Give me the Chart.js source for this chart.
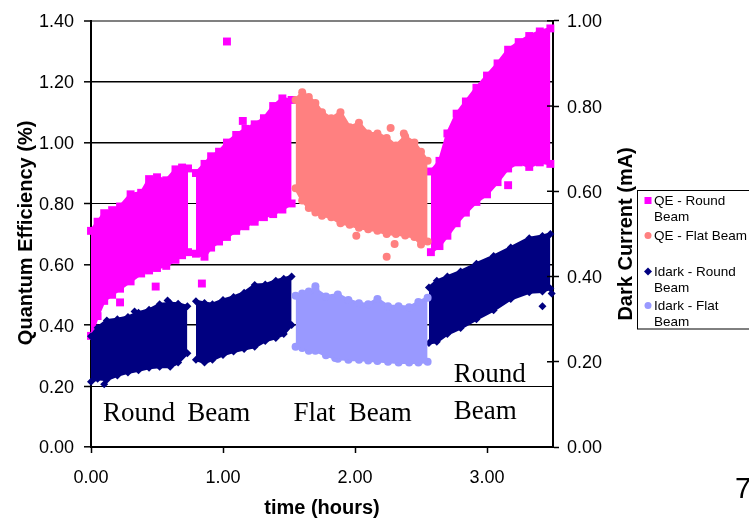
<!DOCTYPE html>
<html>
<head>
<meta charset="utf-8">
<script src="https://cdn.jsdelivr.net/npm/chart.js@4/dist/chart.umd.min.js"></script>
<style>
  html, body { margin: 0; padding: 0; background: #fff; }
  canvas { display: block; }
</style>
</head>
<body>
<canvas id="c" width="749" height="520"></canvas>
<script>
// Quantum efficiency (%) vs time, round beam runs: upper / lower edge of the point cloud.
// null separates the three round-beam runs.
const qeRoundTime  = [0.00, 0.05, 0.10, 0.16, 0.22, 0.30, 0.38, 0.44, 0.50, 0.57, 0.64, 0.69, 0.735, null,
                      0.795, 0.86, 0.91, 0.97, 1.03, 1.10, 1.17, 1.24, 1.31, 1.38, 1.45, 1.52, null,
                      2.575, 2.64, 2.70, 2.77, 2.84, 2.92, 3.00, 3.08, 3.16, 3.24, 3.32, 3.40, 3.48];
const qeRoundUpper = [0.71, 0.74, 0.768, 0.778, 0.79, 0.83, 0.835, 0.88, 0.886, 0.876, 0.912, 0.918, 0.915, null,
                      0.90, 0.93, 0.955, 0.97, 1.00, 1.025, 1.045, 1.06, 1.08, 1.12, 1.145, 1.14, null,
                      0.905, 0.94, 1.03, 1.095, 1.135, 1.18, 1.22, 1.26, 1.305, 1.33, 1.35, 1.365, 1.375];
const qeRoundLower = [0.365, 0.43, 0.48, 0.50, 0.52, 0.544, 0.57, 0.58, 0.588, 0.595, 0.615, 0.63, 0.64, null,
                      0.635, 0.625, 0.655, 0.675, 0.69, 0.71, 0.725, 0.74, 0.755, 0.765, 0.78, 0.80, null,
                      0.64, 0.66, 0.694, 0.735, 0.77, 0.805, 0.83, 0.87, 0.915, 0.935, 0.92, 0.935, 0.93];
const qeRoundOutTime  = [0.22, 0.49, 0.84, 1.03, 1.15, 3.16];
const qeRoundOutValue = [0.475, 0.527, 0.537, 1.332, 1.071, 0.86];

// Quantum efficiency (%), flat beam run
const qeFlatTime  = [1.55, 1.60, 1.65, 1.70, 1.75, 1.82, 1.89, 1.96, 2.03, 2.10, 2.17, 2.24, 2.31, 2.38, 2.45, 2.50, 2.55];
const qeFlatUpper = [1.14, 1.165, 1.15, 1.13, 1.10, 1.08, 1.10, 1.05, 1.065, 1.03, 1.03, 1.015, 0.99, 1.02, 1.00, 0.97, 0.94];
const qeFlatLower = [0.85, 0.81, 0.785, 0.77, 0.76, 0.755, 0.735, 0.73, 0.72, 0.715, 0.71, 0.70, 0.70, 0.695, 0.69, 0.665, 0.675];
const qeFlatOutTime  = [2.01, 2.24, 2.30, 2.27, 2.37];
const qeFlatOutValue = [0.694, 0.625, 0.667, 1.048, 1.03];

// Dark current (mA), round beam runs
const idarkRoundTime  = [0.00, 0.05, 0.12, 0.20, 0.28, 0.36, 0.44, 0.52, 0.60, 0.66, 0.73, null,
                         0.795, 0.86, 0.92, 1.00, 1.08, 1.16, 1.24, 1.32, 1.40, 1.46, 1.52, null,
                         2.56, 2.62, 2.70, 2.80, 2.92, 3.05, 3.18, 3.32, 3.42, 3.48];
const idarkRoundUpper = [0.26, 0.28, 0.297, 0.30, 0.305, 0.315, 0.322, 0.335, 0.337, 0.336, 0.33, null,
                         0.342, 0.338, 0.335, 0.345, 0.352, 0.362, 0.38, 0.381, 0.39, 0.395, 0.40, null,
                         0.374, 0.39, 0.40, 0.412, 0.43, 0.448, 0.468, 0.49, 0.495, 0.50];
const idarkRoundLower = [0.153, 0.16, 0.158, 0.168, 0.175, 0.18, 0.186, 0.188, 0.188, 0.198, 0.22, null,
                         0.205, 0.198, 0.205, 0.216, 0.224, 0.23, 0.235, 0.249, 0.256, 0.265, 0.286, null,
                         0.244, 0.247, 0.265, 0.279, 0.30, 0.321, 0.347, 0.363, 0.365, 0.372];
const idarkRoundOutTime  = [0.10, 0.33, 0.58, 3.42, 3.49];
const idarkRoundOutValue = [0.147, 0.318, 0.344, 0.33, 0.36];

// Dark current (mA), flat beam run
const idarkFlatTime  = [1.55, 1.60, 1.65, 1.70, 1.78, 1.87, 1.95, 2.03, 2.10, 2.17, 2.25, 2.33, 2.41, 2.48, 2.55];
const idarkFlatUpper = [0.355, 0.36, 0.365, 0.37, 0.353, 0.358, 0.345, 0.337, 0.335, 0.347, 0.33, 0.33, 0.328, 0.34, 0.35];
const idarkFlatLower = [0.235, 0.232, 0.226, 0.226, 0.215, 0.207, 0.205, 0.205, 0.203, 0.202, 0.20, 0.198, 0.198, 0.198, 0.20];
const idarkFlatOutTime  = [1.70, 1.85];
const idarkFlatOutValue = [0.377, 0.209];

const leftTicks  = [0, 0.2, 0.4, 0.6, 0.8, 1.0, 1.2, 1.4];
const legendLabels = [['QE - Round', 'Beam'], ['QE - Flat Beam'], ['Idark - Round', 'Beam'], ['Idark - Flat', 'Beam']];

const SANS = "'Liberation Sans', Arial, sans-serif";
const SERIF = "'Liberation Serif', 'Times New Roman', serif";

const series = [
  { name: 'Idark - Flat Beam',  axis: 'y2', color: '#9999FF', style: 'circle',  radius: 4,
    time: idarkFlatTime, upper: idarkFlatUpper, lower: idarkFlatLower, outT: idarkFlatOutTime, outV: idarkFlatOutValue },
  { name: 'Idark - Round Beam', axis: 'y2', color: '#000080', style: 'rectRot', radius: 4,
    time: idarkRoundTime, upper: idarkRoundUpper, lower: idarkRoundLower, outT: idarkRoundOutTime, outV: idarkRoundOutValue },
  { name: 'QE - Flat Beam',     axis: 'y',  color: '#FF8080', style: 'circle',  radius: 4,
    time: qeFlatTime, upper: qeFlatUpper, lower: qeFlatLower, outT: qeFlatOutTime, outV: qeFlatOutValue },
  { name: 'QE - Round Beam',    axis: 'y',  color: '#FF00FF', style: 'rect',    radius: 5.6,
    time: qeRoundTime, upper: qeRoundUpper, lower: qeRoundLower, outT: qeRoundOutTime, outV: qeRoundOutValue }
];

// split a run list into continuous segments (null = gap between runs)
function runs(time, upper, lower) {
  const out = [];
  let cur = null;
  time.forEach((t, i) => {
    if (t === null) { cur = null; return; }
    if (!cur) { cur = { up: [], lo: [] }; out.push(cur); }
    cur.up.push({ x: t, y: upper[i] });
    cur.lo.push({ x: t, y: lower[i] });
  });
  return out;
}

const datasets = [];
series.forEach(s => {
  const common = {
    label: s.name, yAxisID: s.axis, clip: false,
    backgroundColor: s.color, borderColor: s.color,
    pointStyle: s.style, pointRadius: s.radius, pointBorderWidth: 0,
    pointBackgroundColor: s.color, pointHoverRadius: s.radius, tension: 0
  };
  // each run is a band: upper edge filled down to its lower edge, edge points drawn as markers
  runs(s.time, s.upper, s.lower).forEach(r => {
    datasets.push(Object.assign({}, common, { data: r.up, showLine: true, borderWidth: 3, fill: '+1' }));
    datasets.push(Object.assign({}, common, { data: r.lo, showLine: true, borderWidth: 3, fill: false }));
  });
  datasets.push(Object.assign({}, common, {
    data: s.outT.map((t, i) => ({ x: t, y: s.outV[i] })), showLine: false
  }));
});

const tickFont = { family: SANS, size: 18 };

const decorations = {
  id: 'decorations',
  afterDraw(chart) {
    const ctx = chart.ctx;
    const xs = chart.scales.x, yl = chart.scales.y, yr = chart.scales.y2;
    const area = chart.chartArea;
    ctx.save();

    // inner half of the right-axis tick marks
    ctx.strokeStyle = '#000';
    ctx.lineWidth = 1.5;
    yr.ticks.forEach(t => {
      const py = yr.getPixelForValue(t.value);
      ctx.beginPath();
      ctx.moveTo(area.right - 6, py);
      ctx.lineTo(area.right, py);
      ctx.stroke();
    });

    ctx.fillStyle = '#000';
    // axis titles
    ctx.font = 'bold 20px ' + SANS;
    ctx.textAlign = 'center';
    ctx.textBaseline = 'alphabetic';
    ctx.save();
    ctx.translate(31.5, (area.top + area.bottom) / 2 - 1);
    ctx.rotate(-Math.PI / 2);
    ctx.fillText('Quantum Efficiency (%)', 0, 0);
    ctx.restore();
    ctx.save();
    ctx.translate(632, (area.top + area.bottom) / 2);
    ctx.rotate(-Math.PI / 2);
    ctx.fillText('Dark Current (mA)', 0, 0);
    ctx.restore();
    ctx.fillText('time (hours)', (area.left + area.right) / 2, 514);

    // run annotations, placed in axis units (hours, QE %)
    ctx.font = '27px ' + SERIF;
    ctx.textAlign = 'left';
    const note = (txt, t, q) => ctx.fillText(txt, xs.getPixelForValue(t), yl.getPixelForValue(q));
    note('Round', 0.091, 0.0856);
    note('Beam', 0.729, 0.0856);
    note('Flat', 1.534, 0.0856);
    note('Beam', 1.952, 0.0856);
    note('Round', 2.748, 0.2128);
    note('Beam', 2.748, 0.0934);

    // legend
    ctx.lineWidth = 1;
    ctx.strokeStyle = '#000';
    ctx.strokeRect(637.5, 190.5, 140, 138.5);
    ctx.font = '13.5px ' + SANS;
    const rows = [205, 240, 276, 310];
    legendLabels.forEach((lines, i) => {
      const s = series[3 - i];
      const by = rows[i];
      const cy = by - 4.5;
      ctx.fillStyle = s.color;
      ctx.beginPath();
      if (s.style === 'rect') {
        ctx.rect(644.5, cy - 3.5, 7, 7);
      } else if (s.style === 'rectRot') {
        ctx.moveTo(648, cy - 4); ctx.lineTo(652, cy); ctx.lineTo(648, cy + 4); ctx.lineTo(644, cy);
        ctx.closePath();
      } else {
        ctx.arc(648, cy, 3.5, 0, Math.PI * 2);
      }
      ctx.fill();
      ctx.fillStyle = '#000';
      lines.forEach((ln, k) => ctx.fillText(ln, 654, by + k * 15.5));
    });

    // page number
    ctx.font = '29px ' + SANS;
    ctx.fillText('7', 735, 498);
    ctx.restore();
  }
};

new Chart(document.getElementById('c'), {
  type: 'scatter',
  data: { datasets },
  options: {
    responsive: false,
    animation: false,
    devicePixelRatio: 1,
    layout: { padding: { left: 0, top: 17, right: 136, bottom: 0 } },
    plugins: { legend: { display: false }, tooltip: { enabled: false } },
    elements: { line: { borderJoinStyle: 'round' } },
    scales: {
      x: {
        type: 'linear', min: 0, max: 3.5,
        afterFit(s) { s.height = 73; },
        ticks: { stepSize: 1, includeBounds: false, maxRotation: 0, padding: 14, color: '#000',
                 font: tickFont, callback: v => v.toFixed(2) },
        grid: { drawOnChartArea: false, tickLength: 6, tickColor: '#000', tickWidth: 1.5 },
        border: { color: '#000', width: 2 }
      },
      y: {
        position: 'left', min: 0, max: 1.4,
        afterFit(s) { s.width = 91; },
        afterBuildTicks(s) { s.ticks = leftTicks.map(v => ({ value: v })); },
        ticks: { padding: 10, labelOffset: 1.5, color: '#000', font: tickFont, callback: v => v.toFixed(2) },
        grid: {
          color: c => (c.tick && Math.abs(c.tick.value - 1.4) < 1e-6) ? '#808080' : '#000',
          lineWidth: c => {
            if (!c.tick) return 1;
            const v = Math.round(c.tick.value * 10) / 10;
            if (v === 1.4) return 2;
            return (v === 0.8 || v === 0.2) ? 1 : 1.6;
          },
          tickLength: 7, tickColor: '#000', tickWidth: 1.5
        },
        border: { color: '#000', width: 2 }
      },
      y2: {
        position: 'right', min: 0, max: 1,
        afterFit(s) { s.width = 60; },
        ticks: { stepSize: 0.2, padding: 8, labelOffset: 1.5, color: '#000', font: tickFont, callback: v => v.toFixed(2) },
        grid: { drawOnChartArea: false, tickLength: 6, tickColor: '#000', tickWidth: 1.5 },
        border: { color: '#000', width: 2 }
      }
    }
  },
  plugins: [decorations]
});
</script>
</body>
</html>
